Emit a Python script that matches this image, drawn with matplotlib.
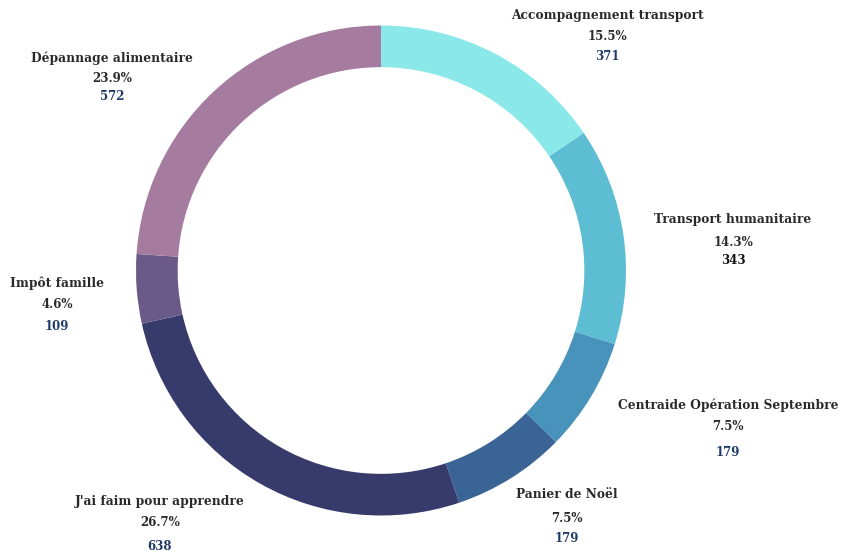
import matplotlib
matplotlib.use("Agg")
import matplotlib.pyplot as plt

# données du graphique
categories = ["Accompagnement transport", "Transport humanitaire",
              "Centraide Opération Septembre", "Panier de Noël",
              "J'ai faim pour apprendre", "Impôt famille", "Dépannage alimentaire"]
values = [371, 343, 179, 179, 638, 109, 572]
colors = ["#8AE9E8", "#5DBDD3", "#4893BC", "#3A6396", "#363B6C", "#6A5A8A", "#A57BA0"]
value_colors = ["#1F3A68", "#111111", "#1F3A68", "#1F3A68", "#1F3A68", "#1F3A68", "#1F3A68"]

# positions des étiquettes (pixels, origine en haut à gauche): x, y titre, y %, y valeur
label_pos = [
    (607, 16, 37, 57),
    (733, 220, 242, 261),
    (728, 405, 426, 452),
    (567, 495, 518, 538),
    (160, 502, 523, 546),
    (57, 283, 305, 326),
    (112, 58, 79, 96),
]

W, H = 854, 554
fig = plt.figure(figsize=(W / 100, H / 100), dpi=100)
cx, cy, r = 381, 270.5, 245
ax = fig.add_axes([(cx - r) / W, (H - cy - r) / H, 2 * r / W, 2 * r / H])
ax.pie(values, colors=colors, startangle=90, counterclock=False,
       radius=1, wedgeprops=dict(width=0.17, edgecolor="none"))
ax.set_xlim(-1, 1)
ax.set_ylim(-1, 1)
ax.set_axis_off()

total = sum(values)
font = dict(family="DejaVu Serif", fontweight="bold", ha="center", va="center")
for name, v, vc, (x, y1, y2, y3) in zip(categories, values, value_colors, label_pos):
    fig.text(x / W, 1 - y1 / H, name, fontsize=8.8, color="#2a2a2a", **font)
    fig.text(x / W, 1 - y2 / H, f"{v / total * 100:.1f}%", fontsize=8.5, color="#2a2a2a", **font)
    fig.text(x / W, 1 - y3 / H, str(v), fontsize=8.5, color=vc, **font)

fig.savefig("out.png", dpi=100)
